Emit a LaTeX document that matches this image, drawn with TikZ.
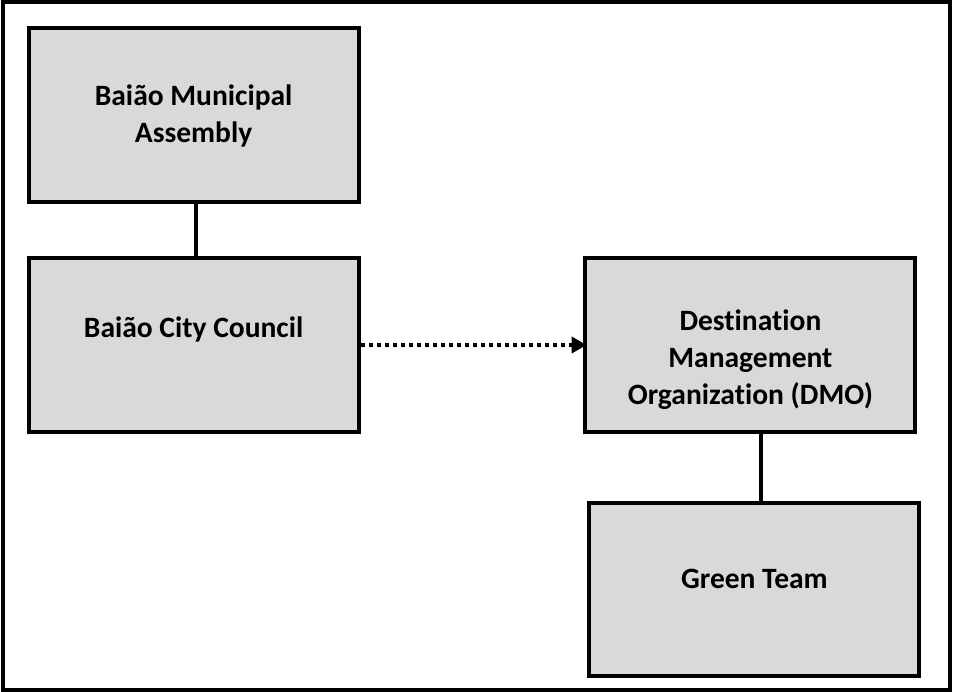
\documentclass[tikz,border=0pt]{standalone}
\usepackage{fontspec}
\setmainfont[Ligatures=NoCommon]{Carlito}
\usetikzlibrary{arrows.meta}
\definecolor{boxgray}{HTML}{D9D9D9}

\begin{document}
\begin{tikzpicture}[
    box/.style={draw, line width=2.85pt, fill=boxgray, minimum width=8.25cm, minimum height=4.33cm},
    boxtext/.style={font=\bfseries\fontsize{21}{26.5}\selectfont, align=center},
    link/.style={line width=2.85pt}]
          \useasboundingbox (0,0) rectangle (23.85,-17.3);
          \draw[line width=2.85pt] (0.075,-0.05) rectangle (23.75,-17.25);
          \node[box, label={[boxtext, yshift=-0.03cm]center:Baião Municipal\\Assembly}] (assembly) at (4.84,-2.875) {};
          \node[box, label={[boxtext, yshift=0.4cm]center:Baião City Council}] (council) at (4.84,-8.625) {};
          \node[box, label={[boxtext, yshift=-0.37cm]center:Destination\\Management\\Organization (DMO)}] (dmo) at (18.76,-8.625) {};
          \node[box, label={[boxtext, yshift=0.26cm]center:Green Team}] (green) at (18.86,-14.74) {};
          \draw[link] ([xshift=0.06cm]assembly.south) -- ([xshift=0.06cm]council.north);
          \draw[link, dash pattern=on 2.85pt off 2.85pt, -{Triangle[length=0.375cm, width=0.4cm]}, shorten >=-0.08cm] (council.east) -- (dmo.west);
          \draw[link] ([xshift=0.265cm]dmo.south) -- ([xshift=0.265cm]dmo.south |- green.north);
        \end{tikzpicture}
\end{document}
